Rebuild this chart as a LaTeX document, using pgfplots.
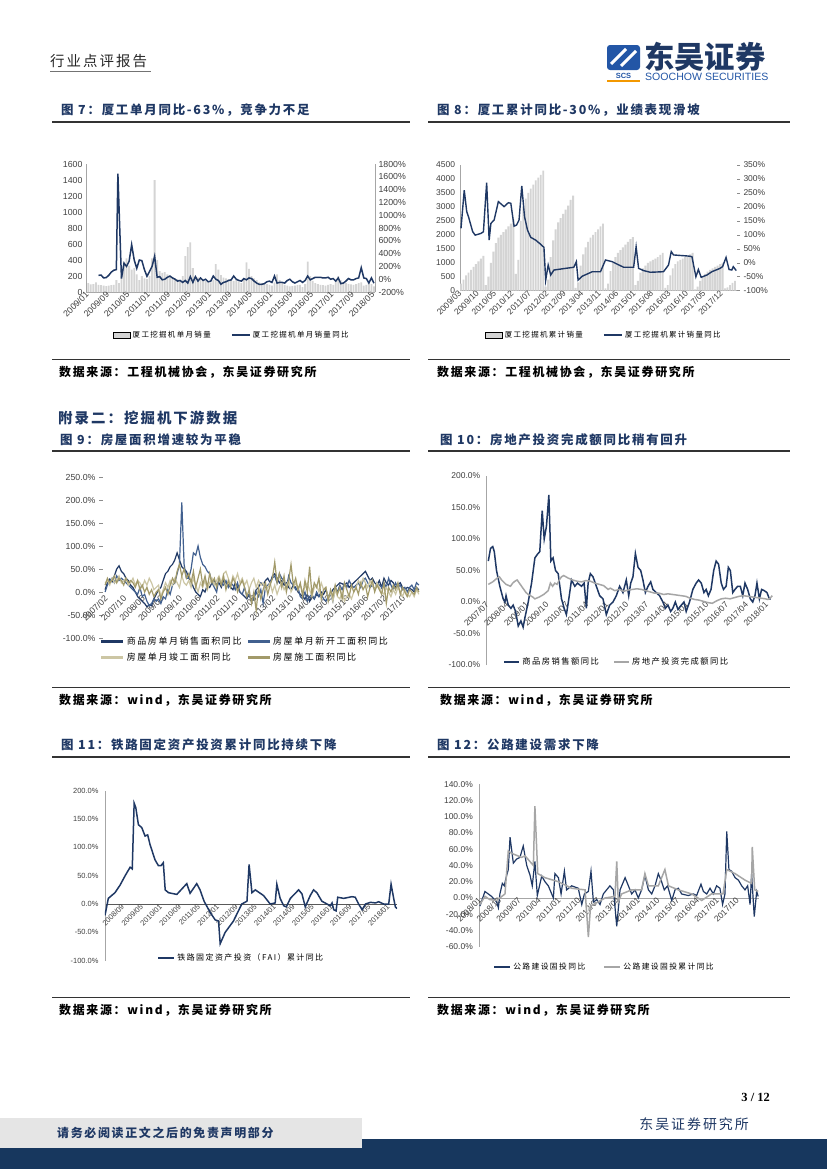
\documentclass[border=0pt]{standalone}
\usepackage{fontspec}
\setmainfont{Liberation Sans}
\newfontfamily\serifF{Liberation Serif}
\newfontfamily\cjk{Noto Sans CJK SC}
\newfontfamily\cjkT[LetterSpace=14]{Noto Sans CJK SC}
\newfontfamily\cjkL[LetterSpace=18]{Noto Sans CJK SC}
\usepackage{pgfplots}
\usepackage{pgfplotstable}
\pgfplotsset{compat=1.18}
\definecolor{navy}{HTML}{1F3864}
\definecolor{barg}{HTML}{D4D4D4}
\definecolor{sblue}{HTML}{41608F}
\definecolor{stan}{HTML}{CCC6A4}
\definecolor{solive}{HTML}{A29A6A}
\definecolor{gline}{HTML}{A6A6A6}
\definecolor{band}{HTML}{17375E}
\definecolor{tickc}{HTML}{404040}
\definecolor{logob}{HTML}{2356A6}
\definecolor{orng}{HTML}{F39800}

\pgfplotsset{
  base/.style={
    scale only axis, anchor=south west,
    tick label style={font=\fontsize{8.5}{10}\selectfont, text=tickc},
    axis line style={draw=black!35, line width=0.6bp},
    major tick length=0bp,
    tick style={draw=black!45, line width=0.5bp},
    xticklabel style={rotate=45, anchor=east, inner sep=1.5bp},
    legend cell align=left,
  },
}

\pgfplotstableread[row sep=\\]{v\\110\\95\\100\\120\\90\\85\\80\\75\\80\\85\\90\\150\\110\\200\\380\\420\\330\\280\\300\\220\\150\\200\\170\\160\\200\\420\\1400\\400\\260\\240\\250\\220\\200\\190\\170\\160\\140\\200\\450\\560\\620\\300\\200\\180\\160\\150\\140\\130\\120\\150\\350\\280\\210\\180\\170\\160\\150\\140\\150\\130\\110\\160\\370\\290\\200\\170\\150\\120\\110\\100\\100\\90\\80\\120\\220\\150\\110\\90\\80\\70\\75\\80\\85\\90\\60\\100\\380\\200\\140\\110\\100\\90\\85\\80\\90\\100\\90\\150\\200\\150\\120\\110\\100\\95\\90\\100\\110\\120\\80\\90\\110\\100\\70\\}\sevenBars

\pgfplotstableread[row sep=\\]{v\\250\\400\\550\\650\\750\\850\\950\\1050\\1150\\1250\\200\\500\\1000\\1400\\1700\\1900\\2000\\2100\\2200\\2300\\2400\\2550\\600\\1100\\2500\\3000\\3300\\3500\\3650\\3800\\3950\\4050\\4150\\4300\\150\\400\\1200\\1800\\2200\\2450\\2600\\2750\\2900\\3050\\3250\\3400\\100\\300\\900\\1300\\1550\\1750\\1900\\2000\\2100\\2200\\2300\\2400\\80\\250\\700\\1000\\1200\\1350\\1450\\1550\\1650\\1750\\1850\\1920\\200\\350\\650\\800\\900\\1000\\1050\\1100\\1150\\1200\\1280\\1350\\100\\200\\550\\800\\950\\1050\\1100\\1150\\1200\\1250\\1300\\1350\\50\\150\\350\\500\\600\\680\\750\\800\\850\\900\\950\\1000\\80\\120\\200\\280\\350\\}\eightBars

\pgfplotstableread[row sep=\\]{v\\5\\20\\28\\22\\35\\50\\57\\45\\40\\30\\25\\15\\10\\0\\-10\\-15\\-20\\-25\\-32\\-28\\-30\\-15\\-5\\5\\10\\25\\40\\45\\55\\60\\70\\85\\70\\55\\50\\45\\30\\25\\10\\0\\-5\\-10\\5\\0\\15\\10\\20\\25\\15\\20\\10\\25\\20\\15\\10\\5\\20\\10\\0\\-5\\-10\\-15\\-5\\-20\\-10\\5\\10\\20\\15\\25\\30\\20\\35\\40\\30\\20\\25\\15\\20\\10\\5\\15\\10\\0\\-5\\-10\\-15\\-5\\-20\\-10\\-15\\-5\\-10\\0\\-5\\5\\-10\\-5\\5\\10\\15\\20\\18\\15\\20\\10\\15\\20\\25\\30\\35\\40\\45\\35\\25\\30\\20\\15\\25\\10\\30\\20\\15\\25\\20\\10\\15\\20\\10\\5\\10\\8\\5\\0\\10\\5\\}\nineA

\pgfplotstableread[row sep=\\]{v\\0\\15\\25\\30\\20\\35\\25\\30\\25\\20\\15\\10\\5\\0\\-5\\10\\-10\\-5\\-20\\-30\\-25\\-15\\-20\\-15\\-25\\-10\\-15\\5\\-5\\15\\20\\40\\60\\195\\60\\30\\30\\50\\85\\80\\100\\75\\60\\55\\45\\40\\20\\10\\0\\30\\20\\15\\25\\10\\20\\15\\5\\20\\0\\-5\\10\\-10\\-5\\-20\\-15\\0\\-10\\5\\-25\\10\\15\\20\\30\\35\\20\\40\\30\\25\\10\\35\\20\\15\\5\\10\\-10\\-15\\0\\-20\\-10\\-5\\-15\\0\\-10\\-5\\-15\\-20\\-10\\-5\\-20\\10\\0\\15\\5\\20\\10\\25\\15\\10\\15\\20\\10\\25\\30\\20\\10\\15\\5\\20\\15\\10\\20\\10\\30\\15\\5\\20\\10\\15\\5\\10\\0\\10\\15\\5\\20\\15\\}\nineB

\pgfplotstableread[row sep=\\]{v\\20\\25\\15\\30\\20\\25\\35\\20\\25\\30\\15\\20\\30\\15\\25\\20\\10\\25\\15\\30\\20\\5\\10\\15\\-10\\5\\20\\10\\25\\15\\30\\20\\10\\35\\20\\15\\25\\10\\30\\15\\0\\20\\10\\25\\5\\20\\30\\15\\25\\35\\20\\40\\45\\30\\15\\35\\25\\40\\20\\30\\15\\25\\5\\20\\30\\10\\25\\15\\20\\5\\10\\20\\0\\15\\-5\\10\\20\\5\\15\\25\\0\\10\\20\\5\\15\\0\\10\\20\\5\\-10\\10\\15\\0\\20\\5\\10\\-15\\0\\-20\\5\\-10\\-15\\0\\-20\\-10\\-5\\-15\\0\\10\\25\\15\\30\\20\\10\\25\\15\\5\\20\\10\\0\\-5\\10\\0\\-10\\5\\-5\\10\\0\\-10\\5\\-5\\-10\\0\\-10\\5\\-5\\}\nineC

\pgfplotstableread[row sep=\\]{v\\15\\30\\20\\25\\35\\20\\30\\25\\15\\30\\20\\25\\20\\10\\25\\5\\15\\0\\10\\-5\\5\\-10\\0\\5\\-15\\0\\10\\-5\\15\\30\\20\\45\\60\\35\\50\\30\\40\\20\\45\\10\\30\\50\\15\\35\\10\\40\\20\\30\\10\\30\\15\\35\\5\\25\\10\\30\\20\\0\\15\\25\\10\\-10\\5\\-25\\0\\-40\\10\\-15\\5\\20\\-5\\15\\30\\65\\20\\40\\10\\35\\0\\25\\60\\15\\30\\5\\20\\-10\\25\\0\\55\\-5\\20\\10\\30\\-15\\5\\10\\-20\\5\\-10\\15\\-5\\10\\-15\\20\\5\\-10\\15\\0\\10\\-5\\20\\5\\15\\-10\\10\\25\\0\\15\\5\\-5\\20\\-25\\10\\0\\15\\5\\20\\-5\\10\\0\\-10\\5\\0\\-5\\10\\0\\}\nineD

\begin{document}
\begin{tikzpicture}
\path[use as bounding box, fill=white] (0bp,0bp) rectangle (827bp,-1169bp);
\begin{scope}[x=1bp,y=-1bp]
% header
\node[anchor=west, font=\cjkT\fontsize{14.5}{17}\selectfont, text=black!85, inner sep=0] at (50,61) {行业点评报告};
\draw[black!55, line width=1.2bp] (50,71.5) -- (151,71.5);
\fill[logob, rounded corners=3bp] (607,45) rectangle (640,70);
\draw[white, line width=3bp] (611,64) -- (626,49);
\draw[white, line width=3bp] (621,66) -- (636,51);
\node[font=\bfseries\fontsize{7.5}{8}\selectfont, text=logob, inner sep=0] at (623.5,75.5) {SCS};
\fill[orng] (607,79.5) rectangle (640,82);
\node[anchor=west, font=\cjk\bfseries\fontsize{30.5}{33}\selectfont, text=navy, inner sep=0] at (644,57) {东吴证券};
\node[anchor=west, font=\fontsize{10.6}{12}\selectfont, text=logob, inner sep=0] at (645,76.5) {SOOCHOW SECURITIES};
% titles
\tikzset{ttl/.style={anchor=west, font=\cjkT\bfseries\fontsize{12.5}{15}\selectfont, text=navy, inner sep=0}}
\tikzset{src/.style={anchor=west, font=\cjkT\bfseries\fontsize{12}{14}\selectfont, text=black, inner sep=0}}
\node[ttl] at (61,110) {图 7：厦工单月同比-63\%，竞争力不足};
\node[ttl] at (437,110) {图 8：厦工累计同比-30\%，业绩表现滑坡};
\draw[black!80, line width=1.8bp] (52,122) -- (410,122);
\draw[black!80, line width=1.8bp] (428,122) -- (790,122);
\draw[black!80, line width=1.8bp] (52,359.5) -- (410,359.5);
\draw[black!80, line width=1.8bp] (428,359.5) -- (790,359.5);
\node[src] at (59,372) {数据来源：工程机械协会，东吴证券研究所};
\node[src] at (437,372) {数据来源：工程机械协会，东吴证券研究所};
\node[anchor=west, font=\cjkT\bfseries\fontsize{14.5}{17}\selectfont, text=navy, inner sep=0] at (58,418) {附录二：挖掘机下游数据};
\node[ttl] at (60,440) {图 9：房屋面积增速较为平稳};
\node[ttl] at (440,440) {图 10：房地产投资完成额同比稍有回升};
\draw[black!80, line width=1.8bp] (52,451) -- (410,451);
\draw[black!80, line width=1.8bp] (428,451) -- (790,451);
\draw[black!80, line width=1.8bp] (52,687.5) -- (410,687.5);
\draw[black!80, line width=1.8bp] (428,687.5) -- (790,687.5);
\node[src] at (59,700) {数据来源：wind，东吴证券研究所};
\node[src] at (440,700) {数据来源：wind，东吴证券研究所};
\node[ttl] at (61,745) {图 11：铁路固定资产投资累计同比持续下降};
\node[ttl] at (437,745) {图 12：公路建设需求下降};
\draw[black!80, line width=1.8bp] (52,757) -- (410,757);
\draw[black!80, line width=1.8bp] (428,757) -- (790,757);
\draw[black!80, line width=1.8bp] (52,997.5) -- (410,997.5);
\draw[black!80, line width=1.8bp] (428,997.5) -- (790,997.5);
\node[src] at (59,1010) {数据来源：wind，东吴证券研究所};
\node[src] at (437,1010) {数据来源：wind，东吴证券研究所};
% footer
\node[anchor=east, font=\serifF\bfseries\fontsize{12.5}{14}\selectfont, inner sep=0] at (770,1097) {3 / 12};
\node[anchor=east, font=\cjkT\fontsize{14}{16}\selectfont, text=navy, inner sep=0] at (749,1124) {东吴证券研究所};
\fill[band] (0,1139) rectangle (827,1169);
\fill[black!10] (0,1118) rectangle (362,1148);
\node[anchor=west, font=\cjkT\bfseries\fontsize{12}{14}\selectfont, text=navy, inner sep=0] at (57,1133) {请务必阅读正文之后的免责声明部分};
\end{scope}

% ===== Chart 7 =====
\begin{axis}[base, at={(86bp,-292bp)}, width=289bp, height=128bp,
  tick label style={font=\fontsize{8.8}{10}\selectfont},
  xmin=-0.9, xmax=112.4, ymin=0, ymax=1600,
  axis x line*=bottom, axis y line*=left,
  ytick={0,200,...,1600}, yticklabels={0,200,400,600,800,1000,1200,1400,1600},
  xtick={0,8,...,112}, xticklabels={2009/01,2009/09,2010/05,2011/01,2011/09,2012/05,2013/01,2013/09,2014/05,2015/01,2015/09,2016/05,2017/01,2017/09,2018/05},
  ybar, bar width=1.8bp]
\addplot[fill=barg, draw=none] table[x expr=\coordindex, y=v]{\sevenBars};
\end{axis}
\begin{axis}[base, at={(86bp,-292bp)}, width=289bp, height=128bp,
  tick label style={font=\fontsize{8.8}{10}\selectfont},
  xmin=-0.9, xmax=112.4, ymin=-200, ymax=1800,
  axis x line=none, axis y line*=right,
  ytick={-200,0,...,1800}, yticklabels={-200\%,0\%,200\%,400\%,600\%,800\%,1000\%,1200\%,1400\%,1600\%,1800\%},
  legend columns=2,
  legend style={at={(0.505,-0.336)}, anchor=center, draw=none, fill=none, font=\cjkL\fontsize{7.5}{9}\selectfont, /tikz/every even column/.append style={column sep=18bp}},
  legend image code/.code={\draw[#1, line width=2.2bp] (0bp,0bp) -- (18bp,0bp);}]
\addlegendimage{area legend, fill=barg, draw=none}
\addlegendentry{厦工挖掘机单月销量}
\addplot[navy, line width=1.5bp] coordinates {(4,60)(5,65)(6,20)(7,25)(8,60)(9,110)(10,140)(11,150)(11.6,1650)(13,10)(14,250)(15,200)(16,280)(17,540)(18,300)(19,170)(20,300)(21,290)(22,150)(23,45)(24,120)(25,200)(26,360)(27,30)(28,40)(29,-10)(30,0)(31,30)(32,50)(33,20)(34,0)(35,-30)(36,-20)(37,-50)(38,-20)(39,-60)(40,40)(41,-50)(42,40)(43,-30)(44,20)(45,-20)(46,0)(47,-40)(48,-30)(49,50)(50,0)(51,-20)(52,-80)(53,-50)(54,-40)(55,-20)(56,-10)(57,50)(58,0)(59,-20)(60,-30)(61,10)(62,-10)(63,20)(64,10)(65,-30)(66,-60)(67,-80)(68,-80)(69,-70)(70,-40)(71,-30)(72,-50)(73,50)(74,-60)(75,-50)(76,-50)(77,-60)(78,-20)(79,0)(80,-40)(81,-60)(82,-40)(83,-20)(84,-50)(85,-20)(86,50)(87,-10)(88,10)(89,30)(90,30)(91,30)(92,20)(93,20)(94,30)(95,0)(96,10)(97,-30)(98,20)(99,-70)(100,-60)(101,-30)(102,10)(103,-10)(104,-10)(105,10)(106,20)(107,180)(108,20)(109,10)(110,-60)(111,20)(112,-63)};
\addlegendentry{厦工挖掘机单月销量同比}
\end{axis}

% ===== Chart 8 =====
\begin{axis}[base, at={(460bp,-290.7bp)}, width=277bp, height=125.7bp,
  xmin=-0.4, xmax=110.8, ymin=0, ymax=4500,
  axis x line*=bottom, axis y line*=left,
  ytick={0,500,...,4500}, yticklabels={0,500,1000,1500,2000,2500,3000,3500,4000,4500},
  yticklabel style={xshift=-1.5bp},
  xtick={0,7,...,105}, xticklabels={2009/03,2009/10,2010/05,2010/12,2011/07,2012/02,2012/09,2013/04,2013/11,2014/06,2015/01,2015/08,2016/03,2016/10,2017/05,2017/12},
  ybar, bar width=1.9bp]
\addplot[fill=barg, draw=none] table[x expr=\coordindex, y=v]{\eightBars};
\end{axis}
\begin{axis}[base, at={(460bp,-290.7bp)}, width=277bp, height=125.7bp,
  xmin=-0.4, xmax=110.8, ymin=-100, ymax=350,
  axis x line=none, axis y line*=right, y axis line style={draw=none},
  major tick length=3bp, tick align=outside,
  ytick={-100,-50,...,350}, yticklabels={-100\%,-50\%,0\%,50\%,100\%,150\%,200\%,250\%,300\%,350\%},
  legend columns=2,
  legend style={at={(0.52,-0.352)}, anchor=center, draw=none, fill=none, font=\cjkL\fontsize{7.5}{9}\selectfont, /tikz/every even column/.append style={column sep=18bp}},
  legend image code/.code={\draw[#1, line width=2.2bp] (0bp,0bp) -- (18bp,0bp);}]
\addlegendimage{area legend, fill=barg, draw=none}
\addlegendentry{厦工挖掘机累计销量}
\addplot[navy, line width=1.4bp] coordinates {(0,123)(1.3,260)(2.3,183)(3,165)(4.7,111)(5.7,99)(8,105)(9,111)(10.3,287)(11.3,81)(12,141)(13.3,153)(15,219)(17.3,201)(19,215)(20,213)(21.3,131)(22.3,135)(23.3,153)(24.4,275)(25.5,165)(26.7,117)(28,91)(30,81)(32,66)(33.3,55)(34,-62)(35,-8)(36,-44)(37.3,-26)(42,-20)(45.3,-16)(46.3,4)(47,-62)(48.7,-48)(52.7,-32)(56,-32)(58,10)(60.7,4)(62.7,-5)(65.3,-16)(69.3,-16)(70.3,57)(71.3,-20)(73.3,-28)(76,-34)(81.3,-32)(83.3,-8)(84.4,40)(85.3,28)(91.3,24)(92.7,22)(94.3,-50)(95.3,-24)(96.4,-52)(98.7,-44)(100.7,-32)(104,-20)(105,-14)(106.4,19)(107.6,-24)(108.7,-26)(109.3,-14)(110.5,-28)};
\addlegendentry{厦工挖掘机累计销量同比}
\end{axis}

% ===== Chart 9 =====
\begin{axis}[base, at={(103bp,-638bp)}, width=317bp, height=161bp,
  xmin=-0.9, xmax=135.5, ymin=-100, ymax=250,
  axis y line*=left, axis x line*=middle,
  x axis line style={draw=none}, y axis line style={draw=none},
  major tick length=4bp, tick align=outside, xtick style={draw=none},
  tick label style={font=\fontsize{8.8}{10}\selectfont},
  ytick={-100,-50,...,250}, yticklabels={-100.0\%,-50.0\%,0.0\%,50.0\%,100.0\%,150.0\%,200.0\%,250.0\%},
  xtick={1,9,...,129}, xticklabels={2007/02,2007/10,2008/06,2009/02,2009/10,2010/06,2011/02,2011/10,2012/06,2013/02,2013/10,2014/06,2015/02,2015/10,2016/06,2017/02,2017/10},
  legend columns=2,
  legend style={at={(-0.019,0.031)}, anchor=north west, draw=none, fill=none, row sep=3bp, font=\cjkL\fontsize{9}{10.5}\selectfont, /tikz/every even column/.append style={column sep=3bp}},
  legend image code/.code={\draw[#1, line width=2.6bp] (0bp,0bp) -- (22bp,0bp);}]
\addplot[navy, line width=1.2bp] table[x expr=\coordindex, y=v]{\nineA};
\addlegendentry{商品房单月销售面积同比}
\addplot[sblue, line width=1.2bp] table[x expr=\coordindex, y=v]{\nineB};
\addlegendentry{房屋单月新开工面积同比}
\addplot[stan, line width=1.2bp] table[x expr=\coordindex, y=v]{\nineC};
\addlegendentry{房屋单月竣工面积同比}
\addplot[solive, line width=1.2bp] table[x expr=\coordindex, y=v]{\nineD};
\addlegendentry{房屋施工面积同比}
\end{axis}

% ===== Chart 10 =====
\begin{axis}[base, at={(486.7bp,-665bp)}, width=290bp, height=189bp,
  xmin=-0.72, xmax=130, ymin=-100, ymax=200,
  axis y line*=left, axis x line*=middle, x axis line style={draw=none},
  tick label style={font=\fontsize{8.5}{10}\selectfont},
  yticklabel style={xshift=-3bp},
  ytick={-100,-50,...,200}, yticklabels={-100.0\%,-50.0\%,0.0\%,50.0\%,100.0\%,150.0\%,200.0\%},
  xtick={0,9,...,126}, xticklabels={2007/07,2008/04,2009/01,2009/10,2010/07,2011/04,2012/01,2012/10,2013/07,2014/04,2015/01,2015/10,2016/07,2017/04,2018/01},
  legend columns=2,
  legend style={at={(0.046,0.0175)}, anchor=west, draw=none, fill=none, font=\cjkL\fontsize{8.3}{10}\selectfont, /tikz/every even column/.append style={column sep=12bp}},
  legend image code/.code={\draw[#1, line width=2.2bp] (0bp,0bp) -- (15bp,0bp);}]
\addplot[navy, line width=1.5bp] coordinates {(0,65)(1,85)(2,88)(2.7,80)(3.7,50)(5.2,25)(6.7,5)(7.5,0)(8,10)(9,-5)(10.2,-10)(11.2,-5)(12.3,-15)(13.5,-38)(14.7,-30)(15.7,-40)(16.5,-25)(18,0)(19.5,30)(21,70)(22.2,76)(23.2,80)(24.3,145)(25.2,100)(26.2,120)(27.3,170)(28.2,65)(29.2,70)(30.3,50)(31.5,45)(33,5)(34.2,-10)(35.2,-20)(36.3,5)(37.5,35)(39,25)(40.2,30)(42,25)(43.2,30)(44.2,-10)(45,30)(46,45)(47.2,40)(48.7,25)(50.2,10)(51.7,5)(53.2,-20)(54.7,-5)(56.2,0)(57.7,10)(59.2,25)(60.7,15)(62.2,35)(63.3,10)(64.2,30)(65.2,40)(66.3,77)(67.5,55)(68.7,50)(69.7,35)(70.8,15)(72,25)(73.2,32)(74.2,20)(75.7,15)(77.2,10)(78.7,0)(79.8,-10)(81,-5)(82.2,-15)(83.2,-10)(84.3,0)(85.5,-12)(87,-5)(88.2,0)(89.2,-15)(90.7,0)(92.2,20)(93.7,30)(94.8,35)(96,30)(97.2,15)(98.2,20)(99.2,10)(100.4,20)(101.6,50)(102.7,65)(103.8,60)(105,30)(106,20)(107.2,25)(108.2,55)(109.1,50)(110.2,15)(111.2,20)(112.4,25)(113.6,25)(114.7,10)(115.7,30)(116.9,20)(118.1,5)(119.2,0)(120.2,10)(121.1,30)(122.2,5)(123.2,20)(124.4,18)(125.6,15)(126.7,5)(127.4,5)};
\addlegendentry{商品房销售额同比}
\addplot[gline, line width=1.5bp] coordinates {(0,28)(2,32)(4,38)(5,40)(6,35)(8,28)(10,25)(11,30)(12,33)(13,35)(14,30)(15,25)(16,20)(17,15)(18,12)(19,10)(20,8)(21,5)(23,8)(25,12)(27,18)(28,30)(29,25)(30,30)(31,28)(32,35)(33,40)(34,42)(36,38)(38,35)(40,33)(42,32)(44,34)(46,33)(48,30)(50,28)(52,26)(54,20)(55,22)(57,18)(59,20)(61,17)(63,19)(65,20)(67,21)(69,20)(71,18)(73,16)(75,14)(77,14)(79,12)(81,13)(83,12)(85,11)(87,10)(89,9)(91,6)(93,4)(95,3)(97,1)(99,-1)(101,-2)(103,2)(105,5)(107,6)(109,5)(111,7)(113,9)(115,10)(117,9)(119,8)(121,7)(123,6)(125,5)(126,4)(127,6)(128,10)};
\addlegendentry{房地产投资完成额同比}
\end{axis}

% ===== Chart 11 =====
\begin{axis}[base, at={(105bp,-960.7bp)}, width=292bp, height=170bp,
  xmin=0, xmax=123.2, ymin=-100, ymax=200,
  axis y line*=left, axis x line*=middle, x axis line style={draw=black!65, line width=0.8bp},
  tick label style={font=\fontsize{7.5}{9}\selectfont},
  yticklabel style={xshift=-3bp},
  ytick={-100,-50,...,200}, yticklabels={-100.0\%,-50.0\%,0.0\%,50.0\%,100.0\%,150.0\%,200.0\%},
  xtick={0,8,...,120}, xticklabels={2008/01,2008/09,2009/05,2010/01,2010/09,2011/05,2012/01,2012/09,2013/05,2014/01,2014/09,2015/05,2016/01,2016/09,2017/05,2018/01},
  legend style={at={(0.168,0.016)}, anchor=west, draw=none, fill=none, font=\cjkL\fontsize{8}{9.5}\selectfont},
  legend image code/.code={\draw[#1, line width=2.2bp] (0bp,0bp) -- (16bp,0bp);}]
\addplot[navy, line width=1.5bp] coordinates {(0,-20)(1.4,10)(2.8,15)(4.2,20)(6.3,33)(8.5,50)(10.6,65)(11.5,62)(12.3,178)(13,170)(14.1,140)(15.5,135)(16.9,120)(18,122)(19,105)(21.1,78)(22.5,68)(23.7,68)(24.6,73)(25.4,25)(26.8,20)(30.3,17)(34.5,36)(35.9,19)(38.7,36)(40.1,25)(41.8,5)(44.4,-15)(46.5,-28)(47.9,-30)(48.6,-70)(50.7,-50)(54.2,-30)(57.7,0)(59.9,5)(60.8,70)(62,20)(63.4,25)(66.9,15)(69.7,0)(71.8,2)(72.5,35)(73.9,10)(75.4,-3)(76.5,-5)(78.2,10)(81.7,25)(83.1,18)(84.5,-5)(86.6,15)(88,25)(89.4,20)(91.5,5)(93.7,0)(95.1,-3)(95.8,2)(96.5,-10)(97.5,-12)(98.2,12)(100.7,10)(104.2,13)(105.6,12)(107,0)(108.5,-10)(109.9,0)(112,3)(114.1,2)(115.5,4)(117.6,0)(119.7,0)(120.7,35)(121.8,10)(122.5,-5)(123.2,-8)};
\addlegendentry{铁路固定资产投资（FAI）累计同比}
\end{axis}

% ===== Chart 12 =====
\begin{axis}[base, at={(479.3bp,-946.7bp)}, width=280bp, height=162.4bp,
  xmin=-0.77, xmax=126.5, ymin=-60, ymax=140,
  axis y line*=left, axis x line*=middle, x axis line style={draw=black!35},
  tick label style={font=\fontsize{8.5}{10}\selectfont},
  yticklabel style={xshift=-3bp},
  ytick={-60,-40,...,140}, yticklabels={-60.0\%,-40.0\%,-20.0\%,0.0\%,20.0\%,40.0\%,60.0\%,80.0\%,100.0\%,120.0\%,140.0\%},
  xtick={0,9,...,117}, xticklabels={2008/01,2008/10,2009/07,2010/04,2011/01,2011/10,2012/07,2013/04,2014/01,2014/10,2015/07,2016/04,2017/01,2017/10},
  legend columns=2,
  legend style={at={(0.038,-0.123)}, anchor=west, draw=none, fill=none, font=\cjkL\fontsize{7.8}{9.5}\selectfont, /tikz/every even column/.append style={column sep=16bp}},
  legend image code/.code={\draw[#1, line width=2.2bp] (0bp,0bp) -- (16bp,0bp);}]
\addplot[navy, line width=1.2bp] coordinates {(-0.5,-10)(1.8,8)(3.3,5)(4.8,2)(7.1,-5)(7.9,-12)(8.6,5)(9.7,18)(10.6,15)(11.4,25)(12.4,35)(13.2,75)(14.7,43)(16.2,48)(17.7,50)(19.2,64)(20.8,40)(22.3,28)(23.3,15)(24.5,45)(25.6,3)(27.6,27)(29.1,20)(30.6,15)(32.9,0)(33.6,30)(35.2,25)(36.4,5)(37.9,33)(38.9,10)(41.2,15)(44.2,12)(45.8,-8)(47,5)(48.8,8)(50,33)(51.1,-5)(52.6,-2)(54.1,-8)(55.6,5)(57.1,10)(58.6,15)(60.2,10)(61.7,-35)(63.2,10)(65.5,25)(67,15)(68.5,5)(70,10)(71.5,0)(73,10)(74.5,28)(76.1,10)(77.6,5)(79.1,15)(80.6,30)(82.1,20)(83.3,10)(84.8,15)(86.7,-3)(88.2,10)(89.7,12)(91.2,5)(94.2,3)(96.5,5)(98,3)(100,17)(101.1,8)(102.6,5)(104.1,12)(105.6,5)(107.1,15)(108.6,12)(109.8,-8)(110.9,5)(111.7,82)(112.7,35)(113.9,33)(115.5,25)(117,22)(118.5,15)(120,10)(121.2,15)(122.3,-8)(123,30)(124.2,-23)(125.3,8)(126,2)};
\addlegendentry{公路建设固投同比}
\addplot[gline, line width=1.5bp] coordinates {(-0.5,-8)(1.8,2)(4,-2)(7.1,-3)(10.9,5)(12.4,58)(13.9,55)(18.5,50)(20,52)(23.8,40)(24.5,113)(25.8,30)(29.1,25)(35.2,20)(41.2,12)(47.3,10)(48.8,-48)(49.8,-10)(56.4,0)(60.9,2)(61.7,45)(62.4,-5)(63.9,5)(68.5,10)(73,10)(74.5,30)(76.1,15)(80.6,15)(83.6,35)(85.2,15)(89.7,10)(95.8,5)(100.3,-3)(104.8,5)(110,5)(111.7,35)(115.5,30)(120,22)(123,18)(123.3,63)(124.4,10)(126,8)};
\addlegendentry{公路建设固投累计同比}
\end{axis}
\end{tikzpicture}
\end{document}
